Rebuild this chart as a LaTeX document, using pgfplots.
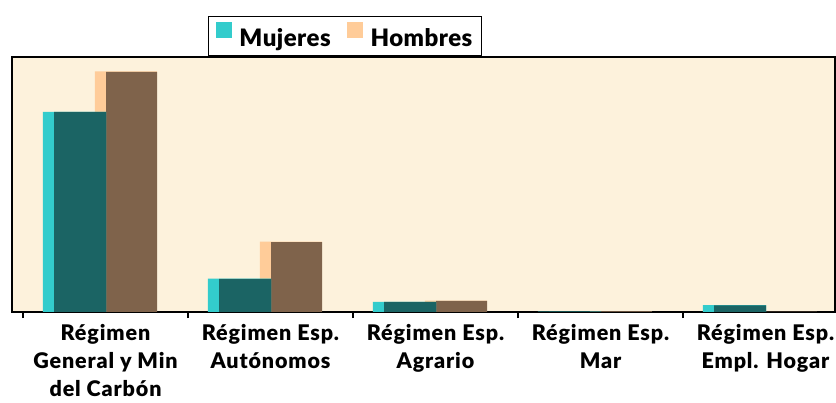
\documentclass[border=0pt]{standalone}
\usepackage{fontspec}
\setmainfont{Lato}[BoldFont={Lato Black}]
\usepackage{pgfplots}
\pgfplotsset{compat=1.18}
\definecolor{cyanL}{HTML}{33CCCC}
\definecolor{tealD}{HTML}{1B6464}
\definecolor{peachL}{HTML}{FFCC99}
\definecolor{brownD}{HTML}{7F634B}
\definecolor{parch}{HTML}{FDF2DC}
\begin{document}
\begin{tikzpicture}
\useasboundingbox (0,0) rectangle (836bp,403bp);
\begin{axis}[
  at={(12bp,91bp)}, anchor=south west,
  scale only axis, width=823bp, height=255bp,
  xmin=-0.5667, xmax=4.4212, ymin=0, ymax=255,
  axis background/.style={fill=parch},
  axis line style={line width=1.8bp, black},
  ytick=\empty,
  xtick={0,1,2,3,4},
  minor xtick={-0.5,0.5,1.5,2.5,3.5},
  major tick length=0pt, minor tick length=6bp,
  tick align=outside, tick pos=left,
  minor tick style={line width=1.2bp, black},
  xticklabels={{Régimen\\General y Min\\del Carbón},{Régimen Esp.\\Autónomos},{Régimen Esp.\\Agrario},{Régimen Esp.\\Mar},{Régimen Esp.\\Empl. Hogar}},
  xticklabel style={align=center, font=\fontsize{21.5bp}{28bp}\selectfont\bfseries\addfontfeatures{LetterSpace=4}, yshift=-11bp, inner sep=1bp},
  legend columns=2,
  legend style={at={(0.238,1)}, anchor=south west, draw=black, line width=1.6bp,
    font=\fontsize{24bp}{28bp}\selectfont\bfseries\addfontfeatures{LetterSpace=2}, inner xsep=7bp, inner ysep=6bp,
    /tikz/every odd column/.append style={column sep=0bp},
    /tikz/every even column/.append style={column sep=14bp}},
  legend image code/.code={\fill[draw=none,#1] (0bp,0bp) rectangle (16bp,16bp); \path (21bp,0bp);},
]
\addlegendimage{fill=cyanL}
\addlegendentry{Mujeres}
\addlegendimage{fill=peachL}
\addlegendentry{Hombres}
% Hombres
\addplot[ybar, fill=peachL, draw=none, bar width=0.376, bar shift=0.124, forget plot] coordinates {(0,240.5) (1,70.3) (2,11.3) (3,0.5) (4,0.2)};
\addplot[ybar, fill=brownD, draw=none, bar width=0.309, bar shift=0.158, forget plot] coordinates {(0,240) (1,69.8) (2,11) (3,0.4) (4,0.2)};
% Mujeres
\addplot[ybar, fill=cyanL, draw=none, bar width=0.382, bar shift=-0.188, forget plot] coordinates {(0,200) (1,33.3) (2,10) (3,0.3) (4,6.8)};
\addplot[ybar, fill=tealD, draw=none, bar width=0.315, bar shift=-0.1545, forget plot] coordinates {(0,200) (1,33) (2,10) (3,0.3) (4,6.7)};
\end{axis}
\end{tikzpicture}
\end{document}
